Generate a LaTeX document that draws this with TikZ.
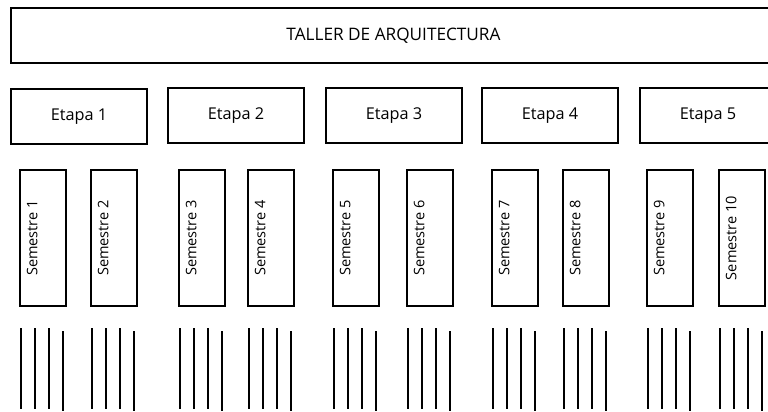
\documentclass[tikz,border=0pt]{standalone}
\usepackage{fontspec}
\setmainfont{Open Sans}
\usepackage{tikz}
\usetikzlibrary{calc}
\newcommand{\px}{0.75pt}

\begin{document}
\begin{tikzpicture}[x=\px,y=-\px,line width=1pt,
	taller/.style={draw, minimum width=765*\px, minimum height=55*\px, font=\fontsize{12.9}{15}\selectfont},
	etapa/.style={draw, minimum width=136*\px, minimum height=55*\px, font=\fontsize{12.2}{14}\selectfont},
	sembox/.style={draw, rotate=90, minimum width=136*\px, inner xsep=0pt, inner ysep=0pt,
		text height=13pt, text depth=21.5pt, font=\fontsize{10.9}{13}\selectfont}]
	\useasboundingbox (0,0) rectangle (768,411);
	\clip (0,0) rectangle (768,411);

	\node[taller] (taller) at (393.5,35.5) {TALLER DE ARQUITECTURA};

	\foreach \l/\t [count=\n] in {11/89,168/88,326/88,482/88,640/88}
		\node[etapa] (e\n) at (\l+68,\t+27.5) {Etapa \n};

	\foreach \l [count=\n] in {20,91,179,248,333,407,492,563,647,719}{
		\node[sembox] (s\n) at (\l+23,238) {Semestre \n};
		\foreach \i in {0,1,2}
			\draw (\l+1+14*\i,328) -- (\l+1+14*\i,409);
		\draw (\l+43,331) -- (\l+43,411);
	}

	\end{tikzpicture}
\end{document}
